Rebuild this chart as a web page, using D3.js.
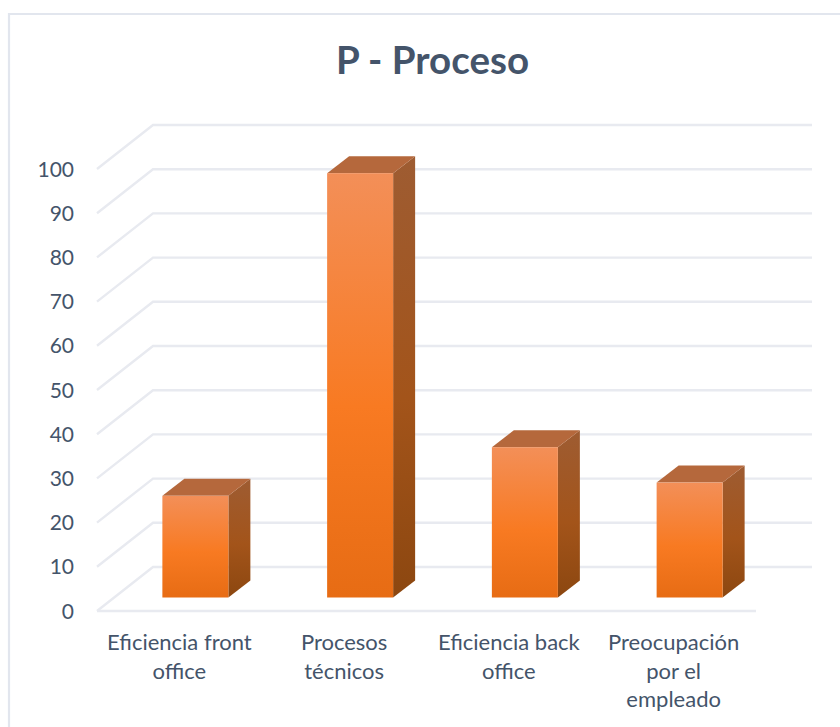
<!DOCTYPE html>
<html><head><meta charset="utf-8">
<script src="https://cdnjs.cloudflare.com/ajax/libs/d3/7.8.5/d3.min.js"></script>
<style>html,body{margin:0;padding:0;background:#fff}svg{display:block}text{font-family:Lato,"Open Sans",sans-serif}</style>
</head><body><svg id="c" width="840" height="727"></svg>
<script>
const categories=[["Eficiencia front","office"],["Procesos","técnicos"],["Eficiencia back","office"],["Preocupación","por el","empleado"]];
const values=[23,96,34,26];
const ticks=d3.range(0,101,10);
const titleText="P - Proceso";

const svg=d3.select("#c");
const ink="#44546a", gridC="#e8eaf0";
const y=d3.scaleLinear().domain([0,100]).range([611,169]);
const x=d3.scaleBand().domain(d3.range(categories.length)).range([97,756]);
const depth={x:56,y:-44};
const barBase={x:16,y:-13.5};
const barD={x:22,y:-17};
const barW=66;

const defs=svg.append("defs");
function grad(id,stops){
  const g=defs.append("linearGradient").attr("id",id).attr("x1",0).attr("y1",0).attr("x2",0).attr("y2",1);
  stops.forEach(([o,c])=>g.append("stop").attr("offset",o).attr("stop-color",c));
}
grad("front",[[0,"#f38f58"],[.55,"#f87a22"],[1,"#e76c14"]]);
grad("side",[[0,"#9e5c32"],[.55,"#a3541a"],[1,"#8c4710"]]);

svg.append("path").attr("d","M9,727V14H840").attr("fill","none").attr("stroke","#e2e6ee").attr("stroke-width",2.2);

svg.append("text").attr("x",432.5).attr("y",74).attr("text-anchor","middle").attr("font-size",38.5).attr("font-weight",700).attr("fill",ink).text(titleText);

const grid=svg.append("g").attr("fill","none").attr("stroke",gridC).attr("stroke-width",2.4);
ticks.forEach(t=>{
  const y0=y(t), x0=x.range()[0];
  if(t===0) grid.append("path").attr("d",`M${x0},${y0}H${x.range()[1]}`);
  grid.append("path").attr("d",`M${x0},${y0}L${x0+depth.x},${y0+depth.y}H812`);
});

svg.append("g").selectAll("text").data(ticks).join("text")
  .attr("x",74).attr("y",d=>y(d)+7.5).attr("text-anchor","end").attr("font-size",21).attr("fill",ink).text(d=>d);

const bars=svg.append("g").selectAll("g").data(values).join("g");
const left=i=>x(i)+x.bandwidth()/2-barW/2+barBase.x;
const base=y(0)+barBase.y;
const topY=d=>y(d)+barBase.y;
bars.append("path").attr("fill","url(#side)").attr("d",(d,i)=>{
  const r=left(i)+barW;
  return `M${r},${topY(d)}L${r+barD.x},${topY(d)+barD.y}V${base+barD.y}L${r},${base}Z`;
});
bars.append("path").attr("fill","#b5683c").attr("d",(d,i)=>{
  const l=left(i),r=l+barW,t=topY(d);
  return `M${l},${t}L${l+barD.x},${t+barD.y}H${r+barD.x}L${r},${t}Z`;
});
bars.append("rect").attr("fill","url(#front)").attr("x",(d,i)=>left(i)).attr("y",d=>topY(d)).attr("width",barW).attr("height",d=>base-topY(d));

const lab=svg.append("g").selectAll("text").data(categories).join("text")
  .attr("text-anchor","middle").attr("font-size",22).attr("fill",ink)
  .attr("transform",(d,i)=>`translate(${x(i)+x.bandwidth()/2},650)`);
lab.selectAll("tspan").data(d=>d).join("tspan").attr("x",0).attr("dy",(d,i)=>i?28.5:0).text(d=>d);
</script></body></html>
